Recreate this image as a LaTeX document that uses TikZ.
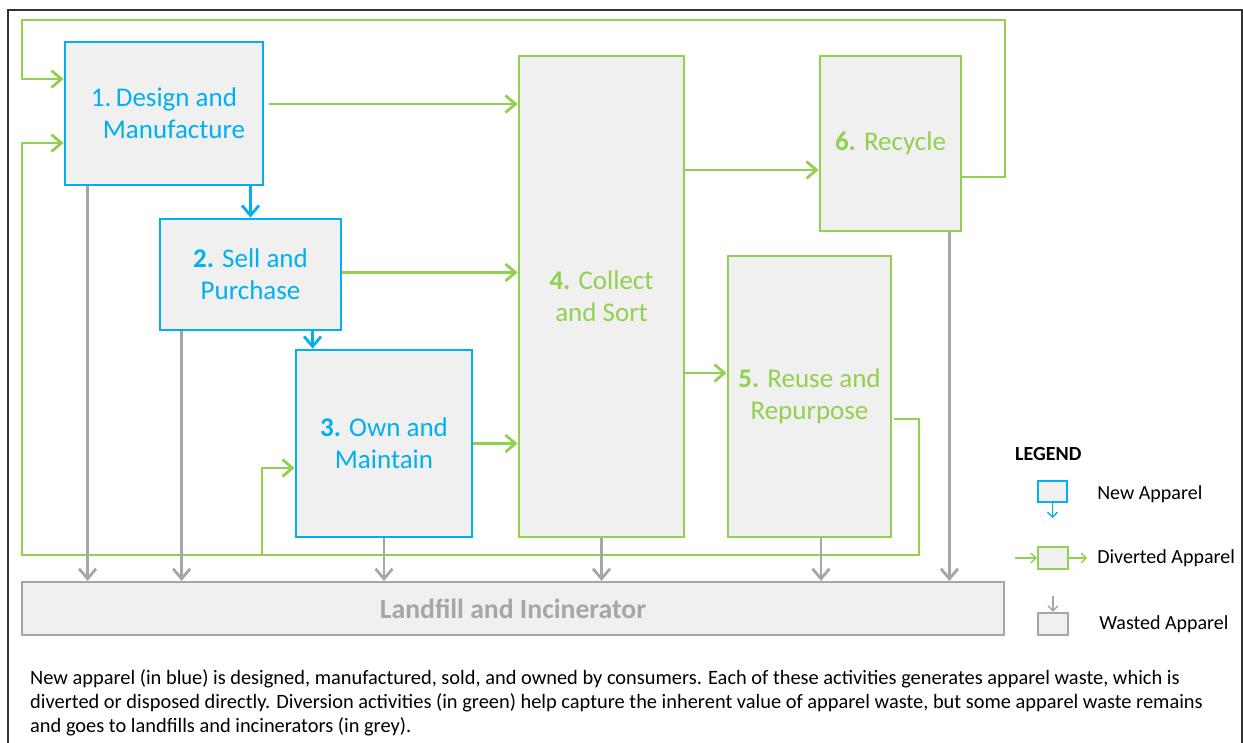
\documentclass[tikz,border=0pt]{standalone}
\usepackage{fontspec}
\setmainfont{Carlito}
\usetikzlibrary{arrows.meta,positioning}
\definecolor{newblue}{HTML}{00B0F0}
\definecolor{divgreen}{HTML}{92D050}
\definecolor{wastegrey}{HTML}{A6A6A6}
\definecolor{boxfill}{HTML}{F0F0F0}

\begin{document}
\begin{tikzpicture}[x=1pt, y=-1pt,
    stage/.style={draw, fill=boxfill, line width=2.8pt, align=center, inner sep=0pt,
        font=\fontsize{27}{32}\selectfont},
    newstage/.style={stage, draw=newblue, text=newblue},
    divstage/.style={stage, draw=divgreen, text=divgreen},
    flow/.style={line width=2.8pt, -{Straight Barb[length=10pt, width=17pt]}},
    newflow/.style={flow, draw=newblue},
    divflow/.style={flow, draw=divgreen},
    wasteflow/.style={flow, draw=wastegrey},
    keybox/.style={draw, fill=boxfill, line width=2.2pt, minimum width=30, minimum height=22, inner sep=0pt},
    keyflow/.style={line width=1.4pt, -{Straight Barb[length=5pt, width=10pt]}},
    keytext/.style={inner sep=0pt, font=\fontsize{20}{24}\selectfont}]
                        \useasboundingbox (0,0) rectangle (1243,743);
                        \draw[black!80, line width=1.5pt]
                        (8,743) -- (8,10) -- (1242,10) -- (1242,743);

                        % stages
                        \node[newstage, minimum width=198, minimum height=143] (design) at (164,113.5) {1.\,Design and\\\hspace*{20pt}Manufacture};
                        \node[newstage, minimum width=181, minimum height=111] (sell) at (250.5,274.5) {\textbf{2.} Sell and\\Purchase};
                        \node[newstage, minimum width=176, minimum height=187] (own) at (384,443.5) {\textbf{3.} Own and\\Maintain};
                        \node[divstage, minimum width=165, minimum height=481] (collect) at (601.5,296.5) {\textbf{4.} Collect\\and Sort};
                        \node[divstage, minimum width=163, minimum height=281] (reuse) at (809.5,396.5) {\textbf{5.} Reuse and\\Repurpose};
                        \node[divstage, minimum width=141, minimum height=175] (recycle) at (890.5,143.5) {\textbf{6.} Recycle};
                        \node[stage, draw=wastegrey, text=wastegrey, line width=2.2pt, minimum width=982, minimum height=53,
                            font=\fontsize{27.7}{30}\selectfont\bfseries] (landfill) at (513,608.5) {Landfill and Incinerator};

                        % loop corners
                        \coordinate (topR) at (1005,20);
                        \coordinate (leftA) at (22,79);
                        \coordinate (botR) at (919,555);
                        \coordinate (leftB) at (22,143);
                        \coordinate (branch) at (262,555);
                        \coordinate (toRecycle) at ([yshift=-26.5pt]recycle.west);
                        \coordinate (toReuse) at ([yshift=23.5pt]reuse.west);
                        \coordinate (toOwn) at ([xshift=18pt]own.north west);

                        % diverted apparel
                        \draw[divflow] ([xshift=5pt,yshift=9.5pt]design.east) coordinate (fromDesign) -- (fromDesign -| collect.west);
                        \draw[divflow] ([yshift=2pt]sell.east) coordinate (fromSell) -- (fromSell -| collect.west);
                        \draw[divflow] (own.east) -- (own.east -| collect.west);
                        \draw[divflow] (toRecycle -| collect.east) -- (toRecycle);
                        \draw[divflow] (toReuse -| collect.east) -- (toReuse);
                        \draw[divflow] ([yshift=-33.5pt]recycle.east) -| (topR) -| (leftA) -- (leftA -| design.west);
                        \draw[divflow] ([xshift=2pt,yshift=-22.5pt]reuse.east) -| (botR) -| (leftB) -- (leftB -| design.west);
                        \draw[divflow] (branch) |- ([yshift=-24.5pt]own.west);

                        % new apparel
                        \draw[newflow] (design.south -| sell.north) -- (sell.north);
                        \draw[newflow] (sell.south -| toOwn) -- (toOwn);

                        % wasted apparel
                        \foreach \src/\dx in {design.south west/24, sell.south west/23, own.south/0,
                            collect.south/0, reuse.south/11.5, recycle.south east/-13} {
                            \draw[wasteflow] ([xshift=\dx pt]\src) coordinate (w) -- (w |- landfill.north);
                        }

                        % legend
                        \node[keytext, font=\fontsize{20}{24}\selectfont\bfseries, anchor=west] (legend) at (1015,454) {LEGEND};
                        \node[keybox, draw=newblue, minimum width=29, minimum height=21] (keyNew) at (1052.5,491.5) {};
                        \node[keybox, draw=divgreen] (keyDiv) at (1053,558) {};
                        \node[keybox, draw=wastegrey] (keyWaste) at (1053,624) {};
                        \draw[keyflow, draw=newblue] (keyNew.south) -- ++(0,15);
                        \draw[keyflow, draw=divgreen] ([xshift=-22pt]keyDiv.west) -- (keyDiv.west);
                        \draw[keyflow, draw=divgreen] (keyDiv.east) -- ++(18,0);
                        \draw[keyflow, draw=wastegrey] ([yshift=16pt]keyWaste.north) -- (keyWaste.north);
                        \node[keytext, right=29pt of keyNew, yshift=-3pt] (newText) {New Apparel};
                        \node[keytext, right=28pt of keyDiv] (divText) {Diverted Apparel};
                        \node[keytext, right=30pt of keyWaste] (wasteText) {Wasted Apparel};

                        % caption
                        \node[anchor=north west, align=left, inner sep=0pt, font=\fontsize{20.4}{24}\selectfont] (caption) at (30,669)
                        {New apparel (in blue) is designed, manufactured, sold, and owned by consumers. Each of these activities generates apparel waste, which is\\
                        diverted or disposed directly. Diversion activities (in green) help capture the inherent value of apparel waste, but some apparel waste remains\\
                        and goes to landfills and incinerators (in grey).};
                    \end{tikzpicture}
\end{document}
